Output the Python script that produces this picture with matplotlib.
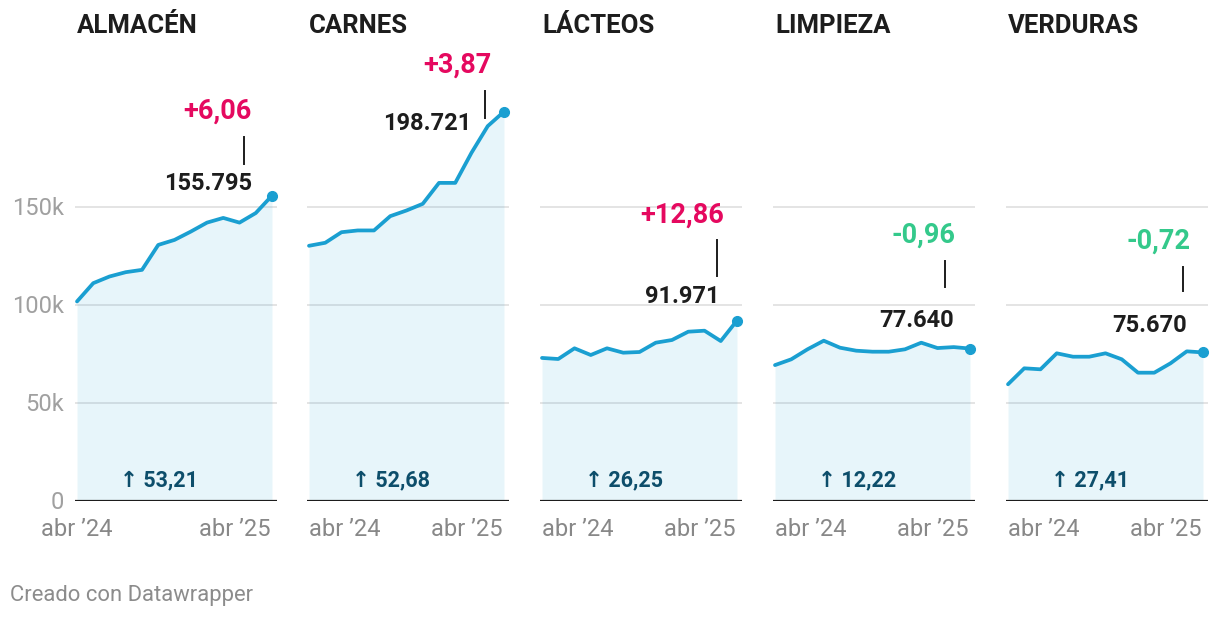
import matplotlib
matplotlib.use('Agg')
import matplotlib.pyplot as plt
import numpy as np

plt.rcParams['font.family'] = ['Roboto', 'DejaVu Sans']

# datos (precio de la canasta por rubro, abr'24 - abr'25)
categorias = ['ALMACÉN', 'CARNES', 'LÁCTEOS', 'LIMPIEZA', 'VERDURAS']
almacen = [101700, 111060, 114460, 116670, 117860, 130600, 133160, 137400, 142000, 144400, 142000, 146890, 155795]
carnes = [130160, 131700, 137100, 138000, 138000, 145300, 148200, 151600, 162300, 162300, 177700, 191320, 198721]
lacteos = [72850, 72300, 77770, 74350, 77770, 75530, 75880, 80640, 82020, 86260, 86770, 81490, 91971]
limpieza = [69190, 72150, 77260, 81660, 78080, 76550, 76040, 76040, 77260, 80640, 77900, 78390, 77640]
verduras = [59390, 67550, 67040, 75220, 73480, 73480, 75220, 72150, 65310, 65310, 70110, 76220, 75670]
series = [almacen, carnes, lacteos, limpieza, verduras]
var_mensual = [6.06, 3.87, 12.86, -0.96, -0.72]   # % ultimo mes
var_anual = [53.21, 52.68, 26.25, 12.22, 27.41]   # % interanual
etiquetas_x = ['abr \u201924', 'abr \u201925']
ticks_y = [0, 50000, 100000, 150000]
etiquetas_y = ['0', '50k', '100k', '150k']

# colores
azul = '#1a9fd1'
rosa = '#e5095f'
verde = '#34c98b'
teal = '#0d4e6b'

# posicion de cada panel en pixeles (inicio del area)
inicios = [77, 309, 542, 775, 1008]
# desplazamientos de las anotaciones (pixeles) respecto al ultimo punto
off_valor = [(-20, 12), (-33, -12), (-18, 24), (-16, 28), (-16, 27)]
off_linea = [(-28, 32, 59), (-19, -6, 21), (-20, 45, 81), (-25, 62, 88), (-20, 61, 85)]
off_pct = [(-20, 84), (-12, 46), (-13, 105), (-15, 113), (-12, 111)]

W, H = 1220, 618
fig = plt.figure(figsize=(W / 100, H / 100), dpi=100)

base_px = 500.5
top_px = 40
px_por_valor = 511.0
ancho = 195.0

def fmt_miles(v):
    return f'{v:,.0f}'.replace(',', '.')

def fmt_pct(v, signo=True):
    s = f'{v:+.2f}' if signo else f'{v:.2f}'
    return s.replace('.', ',')

for i, nombre in enumerate(categorias):
    s = inicios[i]
    ax = fig.add_axes([(s - 2) / W, (H - base_px) / H, 202 / W, (base_px - top_px) / H])
    unidad = ancho / 12
    ax.set_xlim(-2 / unidad, 12 + 5 / unidad)
    ax.set_ylim(0, (base_px - top_px) * px_por_valor)
    ax.axis('off')

    x = np.arange(len(series[i]))
    y = np.array(series[i])

    for t in ticks_y[1:]:
        ax.axhline(t, color='#e2e2e2', lw=1.3, zorder=0)
    ax.fill_between(x, 0, y, color=azul, alpha=0.1, lw=0, zorder=1)
    ax.plot(x, y, color=azul, lw=2.7, zorder=3, solid_joinstyle='round', solid_capstyle='round')
    ax.plot(x[-1], y[-1], 'o', color=azul, ms=7, zorder=4, clip_on=False)
    ax.axhline(0, color='#1d1d1d', lw=1.6, zorder=5)

    # titulo
    fig.text(s / W, 1 - 26 / H, nombre, ha='left', va='center', fontsize=18.5,
             fontweight='bold', color='#1d1d1d')

    # etiquetas eje x
    ax.annotate(etiquetas_x[0], xy=(0, 0), xytext=(0, -29), textcoords='offset pixels',
                ha='center' if i == 0 else 'left', va='center', fontsize=17, color='#888888')
    ax.annotate(etiquetas_x[1], xy=(12, 0), xytext=(-1, -29), textcoords='offset pixels',
                ha='right', va='center', fontsize=17, color='#888888')

    # etiquetas eje y solo en el primer panel
    if i == 0:
        for t, lab in zip(ticks_y, etiquetas_y):
            ax.annotate(lab, xy=(0, t), xytext=(-13, -2), textcoords='offset pixels',
                        ha='right', va='center', fontsize=17, color='#a0a0a0')

    # variacion interanual
    ax.annotate('\u2191 ' + fmt_pct(var_anual[i], signo=False), xy=(5.05, 0), xytext=(0, 20),
                textcoords='offset pixels', ha='center', va='center', fontsize=15.5,
                fontweight='bold', color=teal, zorder=6)

    # valor final
    dx, dy = off_valor[i]
    ax.annotate(fmt_miles(y[-1]), xy=(12, y[-1]), xytext=(dx, dy), textcoords='offset pixels',
                ha='right', va='center', fontsize=17, fontweight='bold', color='#1d1d1d',
                zorder=6, annotation_clip=False)

    # linea de la anotacion
    lx, ly1, ly2 = off_linea[i]
    p = ax.transData.transform((12, y[-1]))
    pts = ax.transData.inverted().transform([[p[0] + lx, p[1] + ly1], [p[0] + lx, p[1] + ly2]])
    ax.plot(pts[:, 0], pts[:, 1], color='#1d1d1d', lw=1.4, clip_on=False, zorder=6)

    # variacion mensual
    dx, dy = off_pct[i]
    ax.annotate(fmt_pct(var_mensual[i]), xy=(12, y[-1]), xytext=(dx, dy), textcoords='offset pixels',
                ha='right', va='center', fontsize=19.5, fontweight='bold',
                color=rosa if var_mensual[i] > 0 else verde, zorder=6, annotation_clip=False)

fig.text(10 / W, 1 - 595 / H, 'Creado con Datawrapper', ha='left', va='center',
         fontsize=15.8, color='#8c8c8c')

fig.savefig('out.png', dpi=100)
